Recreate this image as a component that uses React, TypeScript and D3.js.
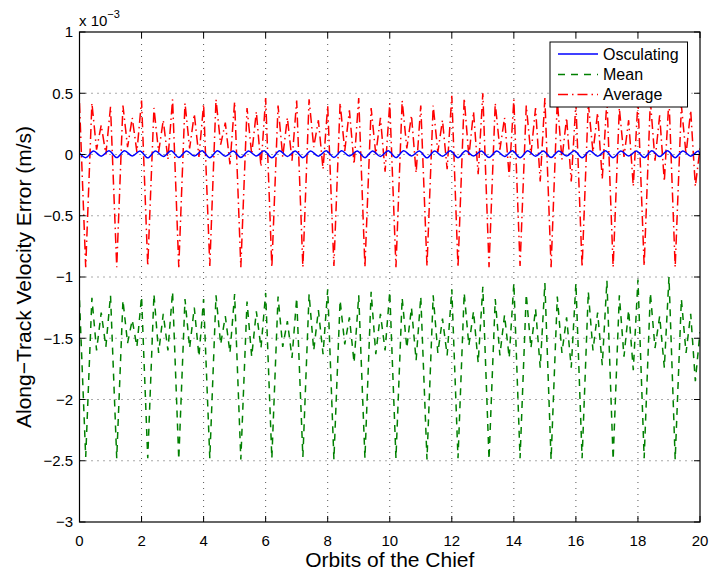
import React from "react";
import * as d3 from "d3";

// ---- Data (values in units of 1e-3 m/s) ----
const X_TICKS = [0, 2, 4, 6, 8, 10, 12, 14, 16, 18, 20];
const Y_TICKS = [1, 0.5, 0, -0.5, -1, -1.5, -2, -2.5, -3];
const Y_TICK_LABELS = ["1", "0.5", "0", "\u22120.5", "\u22121", "\u22121.5", "\u22122", "\u22122.5", "\u22123"];

// sample positions within each orbit for Mean / Average series
const SAMPLE_OFFSETS = [0, 0.2, 0.4, 0.55, 0.7, 0.85];

const AVERAGE_ROWS = [
  [0.42, -0.92, 0.42, 0.04, 0.24, 0.0],
  [0.39, -0.92, 0.4, 0.06, 0.3, 0.02],
  [0.44, -0.91, 0.38, 0.02, 0.28, -0.04],
  [0.45, -0.92, 0.42, 0.05, 0.33, -0.02],
  [0.41, -0.91, 0.45, 0.08, 0.26, -0.08],
  [0.43, -0.92, 0.38, 0.0, 0.35, -0.1],
  [0.46, -0.92, 0.4, -0.02, 0.3, -0.05],
  [0.44, -0.92, 0.45, 0.06, 0.28, -0.12],
  [0.4, -0.91, 0.42, 0.03, 0.36, -0.08],
  [0.46, -0.92, 0.38, 0.0, 0.3, -0.14],
  [0.42, -0.92, 0.44, 0.05, 0.32, -0.15],
  [0.4, -0.91, 0.4, 0.02, 0.28, -0.12],
  [0.48, -0.92, 0.46, -0.02, 0.35, -0.16],
  [0.5, -0.92, 0.42, 0.04, 0.3, -0.18],
  [0.45, -0.91, 0.4, 0.0, 0.38, -0.22],
  [0.46, -0.92, 0.44, -0.04, 0.3, -0.22],
  [0.42, -0.92, 0.42, 0.02, 0.34, -0.2],
  [0.45, -0.92, 0.38, -0.02, 0.28, -0.26],
  [0.44, -0.91, 0.44, -0.05, 0.32, -0.22],
  [0.46, -0.92, 0.4, 0.0, 0.36, -0.26],
];
const AVERAGE_END = 0.05;

const MEAN_ROWS = [
  [-1.19, -2.47, -1.17, -1.6, -1.29, -1.57],
  [-1.15, -2.48, -1.19, -1.54, -1.35, -1.57],
  [-1.16, -2.48, -1.14, -1.62, -1.3, -1.6],
  [-1.12, -2.49, -1.18, -1.58, -1.25, -1.65],
  [-1.18, -2.48, -1.15, -1.55, -1.32, -1.62],
  [-1.14, -2.49, -1.2, -1.65, -1.28, -1.58],
  [-1.13, -2.48, -1.16, -1.57, -1.36, -1.66],
  [-1.17, -2.47, -1.14, -1.6, -1.27, -1.63],
  [-1.1, -2.49, -1.19, -1.55, -1.33, -1.7],
  [-1.15, -2.48, -1.12, -1.63, -1.3, -1.6],
  [-1.12, -2.48, -1.17, -1.58, -1.25, -1.68],
  [-1.16, -2.49, -1.15, -1.62, -1.34, -1.64],
  [-1.1, -2.48, -1.13, -1.56, -1.28, -1.7],
  [-1.08, -2.49, -1.18, -1.64, -1.31, -1.66],
  [-1.05, -2.48, -1.14, -1.58, -1.26, -1.74],
  [-1.05, -2.49, -1.16, -1.62, -1.33, -1.74],
  [-1.05, -2.48, -1.12, -1.6, -1.29, -1.72],
  [-1.03, -2.49, -1.15, -1.65, -1.27, -1.76],
  [-1.02, -2.48, -1.13, -1.58, -1.32, -1.74],
  [-1.0, -2.49, -1.18, -1.62, -1.3, -1.85],
];
const MEAN_END = -1.45;

// Osculating: trough / peak / dip / peak within each orbit
const OSC_OFFSETS = [0.2, 0.45, 0.7, 0.95];
const OSC_START = 0.01;
const OSC_ROWS = [
  [-0.026, 0.028, -0.014, 0.03],
  [-0.025, 0.03, -0.012, 0.028],
  [-0.027, 0.028, -0.016, 0.03],
  [-0.024, 0.029, -0.013, 0.031],
  [-0.026, 0.03, -0.015, 0.028],
  [-0.025, 0.028, -0.012, 0.03],
  [-0.027, 0.031, -0.016, 0.029],
  [-0.026, 0.028, -0.014, 0.03],
  [-0.024, 0.03, -0.013, 0.028],
  [-0.026, 0.029, -0.016, 0.031],
  [-0.025, 0.03, -0.012, 0.028],
  [-0.027, 0.028, -0.015, 0.03],
  [-0.026, 0.03, -0.013, 0.029],
  [-0.024, 0.028, -0.016, 0.03],
  [-0.026, 0.031, -0.014, 0.028],
  [-0.025, 0.029, -0.012, 0.03],
  [-0.027, 0.03, -0.015, 0.031],
  [-0.026, 0.028, -0.013, 0.029],
  [-0.025, 0.03, -0.016, 0.03],
  [-0.026, 0.029, -0.014, 0.028],
];
const OSC_END = 0.0;

const SERIES_NAMES = ["Osculating", "Mean", "Average"];

// ---- helpers ----
function gridSeries(rows: number[][], offsets: number[], end: number, start?: number) {
  const pts: [number, number][] = [];
  if (start !== undefined) pts.push([0, start]);
  rows.forEach((row, k) => {
    row.forEach((v, j) => pts.push([k + offsets[j], v]));
  });
  pts.push([rows.length, end]);
  return pts;
}

const W = 710;
const H = 572;
const LEFT = 79.5;
const RIGHT = 700;
const TOP = 32;
const BOTTOM = 522;
const FONT = "Liberation Sans, Arial, Helvetica, sans-serif";

export default function App() {
  const x = d3.scaleLinear().domain([0, 20]).range([LEFT, RIGHT]);
  const y = d3.scaleLinear().domain([-3, 1]).range([BOTTOM, TOP]);

  const oscPts = gridSeries(OSC_ROWS, OSC_OFFSETS, OSC_END, OSC_START);
  const meanPts = gridSeries(MEAN_ROWS, SAMPLE_OFFSETS, MEAN_END);
  const avgPts = gridSeries(AVERAGE_ROWS, SAMPLE_OFFSETS, AVERAGE_END);

  const straight = d3
    .line<[number, number]>()
    .x((d) => x(d[0]))
    .y((d) => y(d[1]));
  const smooth = d3
    .line<[number, number]>()
    .x((d) => x(d[0]))
    .y((d) => y(d[1]))
    .curve(d3.curveMonotoneX);

  const tickLen = 6;
  const legend = { x0: 550, y0: 42, x1: 687.5, y1: 107 };
  const legendRows = [54, 74.5, 94.5];
  const styles = [
    { stroke: "#0000ff", dash: "none" },
    { stroke: "#008000", dash: "7,6" },
    { stroke: "#ff0000", dash: "10,4,1.5,4" },
  ];

  return (
    <svg
      width={W}
      height={H}
      style={{ position: "absolute", left: 0, top: 0, background: "#fff" }}
      fontFamily={FONT}
    >
      <rect x={0} y={0} width={W} height={H} fill="#fff" />
      <defs>
        <clipPath id="plotclip">
          <rect x={LEFT} y={TOP} width={RIGHT - LEFT} height={BOTTOM - TOP} />
        </clipPath>
      </defs>

      {/* grid */}
      <g stroke="#555" strokeWidth={1} strokeDasharray="1,5">
        {X_TICKS.slice(1, -1).map((t) => (
          <line key={"gx" + t} x1={x(t)} x2={x(t)} y1={TOP} y2={BOTTOM} />
        ))}
        {Y_TICKS.slice(1, -1).map((t) => (
          <line key={"gy" + t} x1={LEFT} x2={RIGHT} y1={y(t)} y2={y(t)} />
        ))}
      </g>

      {/* data */}
      <g clipPath="url(#plotclip)" fill="none" strokeWidth={1.5}>
        <path d={straight(avgPts) || ""} stroke={styles[2].stroke} strokeDasharray={styles[2].dash} />
        <path d={straight(meanPts) || ""} stroke={styles[1].stroke} strokeDasharray={styles[1].dash} />
        <path d={smooth(oscPts) || ""} stroke={styles[0].stroke} />
      </g>

      {/* box and ticks */}
      <rect x={LEFT} y={TOP} width={RIGHT - LEFT} height={BOTTOM - TOP} fill="none" stroke="#000" strokeWidth={1.2} />
      <g stroke="#000" strokeWidth={1}>
        {X_TICKS.map((t) => (
          <g key={"tx" + t}>
            <line x1={x(t)} x2={x(t)} y1={BOTTOM} y2={BOTTOM - tickLen} />
            <line x1={x(t)} x2={x(t)} y1={TOP} y2={TOP + tickLen} />
          </g>
        ))}
        {Y_TICKS.map((t) => (
          <g key={"ty" + t}>
            <line x1={LEFT} x2={LEFT + tickLen} y1={y(t)} y2={y(t)} />
            <line x1={RIGHT} x2={RIGHT - tickLen} y1={y(t)} y2={y(t)} />
          </g>
        ))}
      </g>

      {/* tick labels */}
      <g fontSize={15} fill="#000">
        {X_TICKS.map((t) => (
          <text key={"lx" + t} x={x(t)} y={546} textAnchor="middle">
            {String(t)}
          </text>
        ))}
        {Y_TICKS.map((t, i) => (
          <text key={"ly" + t} x={73} y={y(t)} dy="0.35em" textAnchor="end">
            {Y_TICK_LABELS[i]}
          </text>
        ))}
      </g>

      {/* exponent */}
      <text x={79} y={26} fontSize={15} fill="#000">
        x 10
        <tspan fontSize={11} dy={-8}>
          {"\u22123"}
        </tspan>
      </text>

      {/* axis titles */}
      <text x={(LEFT + RIGHT) / 2} y={567} textAnchor="middle" fontSize={21} fill="#000">
        Orbits of the Chief
      </text>
      <text
        transform={`translate(31,${(TOP + BOTTOM) / 2}) rotate(-90)`}
        textAnchor="middle"
        fontSize={21}
        fill="#000"
      >
        Along{"\u2212"}Track Velocity Error (m/s)
      </text>

      {/* legend */}
      <rect
        x={legend.x0}
        y={legend.y0}
        width={legend.x1 - legend.x0}
        height={legend.y1 - legend.y0}
        fill="#fff"
        stroke="#000"
        strokeWidth={1}
      />
      {SERIES_NAMES.map((name, i) => (
        <g key={name}>
          <line
            x1={558}
            x2={598}
            y1={legendRows[i]}
            y2={legendRows[i]}
            stroke={styles[i].stroke}
            strokeDasharray={styles[i].dash}
            strokeWidth={1.5}
          />
          <text x={603} y={legendRows[i]} dy="0.36em" fontSize={16} fill="#000">
            {name}
          </text>
        </g>
      ))}
    </svg>
  );
}
